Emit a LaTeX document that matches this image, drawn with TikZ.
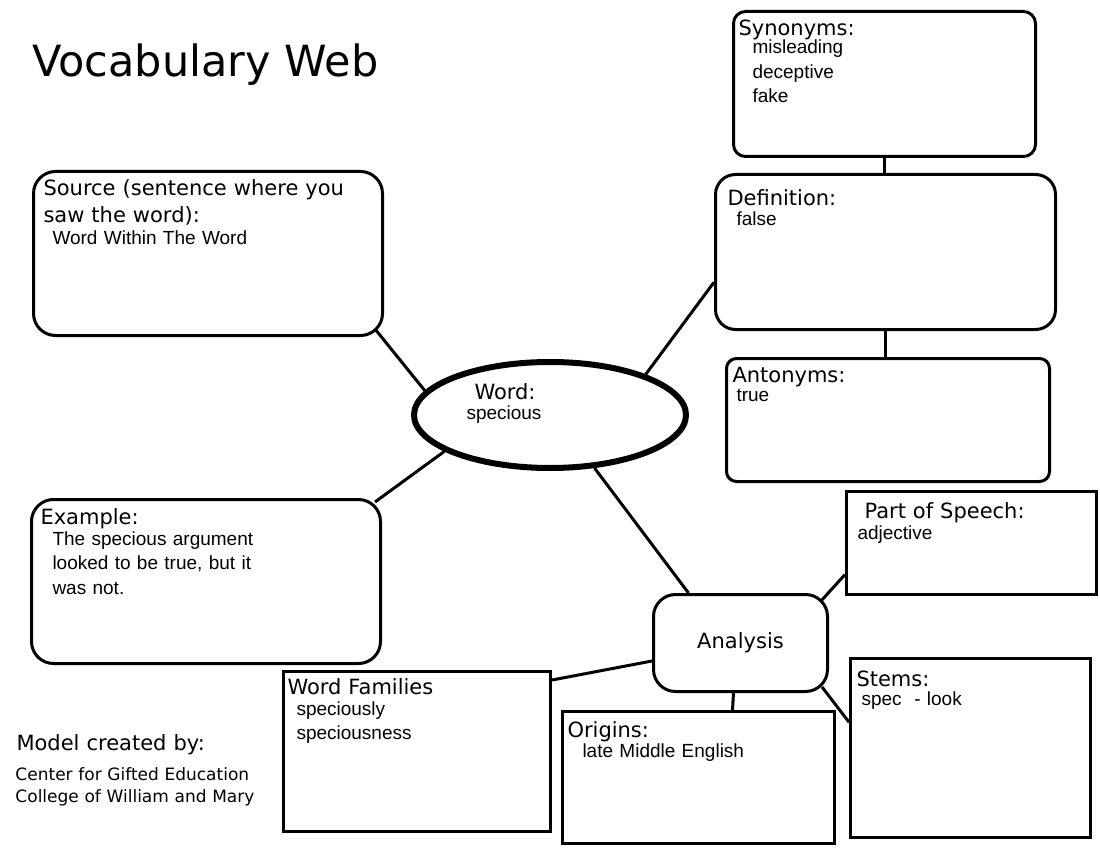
\documentclass[tikz,border=0pt]{standalone}
\usepackage{fontspec}
\setmainfont{Liberation Sans}
\newfontfamily\headfont{DejaVu Sans}
\usetikzlibrary{shapes.geometric}

\begin{document}
\begin{tikzpicture}[x=1pt,y=-1pt,line width=3pt,
  roundbox/.style={draw,fill=white,rounded corners=#1,inner sep=0pt,anchor=north west},
  plainbox/.style={draw,fill=white,inner sep=0pt,anchor=north west},
  head/.style={anchor=base west,inner sep=0pt,text width=400pt,align=left,
    font=\headfont\fontsize{21}{27}\selectfont},
  body/.style={anchor=base west,inner sep=0pt,text width=300pt,align=left,
    font=\fontsize{19}{24.5}\selectfont}]
\useasboundingbox (0,0) rectangle (1100,850);

% boxes
\node[roundbox=12pt,minimum width=302,minimum height=145] (syn) at (732,10) {};
\node[roundbox=20pt,minimum width=340,minimum height=155] (def) at (714,173) {};
\node[roundbox=10pt,minimum width=323,minimum height=123] (ant) at (725,357) {};
\node[roundbox=22pt,minimum width=349,minimum height=164] (src) at (32,170) {};
\node[roundbox=22pt,minimum width=349,minimum height=164] (exa) at (30,498) {};
\node[roundbox=22pt,minimum width=174,minimum height=97,
  font=\headfont\fontsize{21}{25}\selectfont] (ana) at (652,593) {Analysis};
\node[plainbox,minimum width=250,minimum height=103] (pos) at (845,490) {};
\node[plainbox,minimum width=240,minimum height=179] (sem) at (849,657) {};
\node[plainbox,minimum width=272,minimum height=132] (ori) at (561,710) {};
\node[plainbox,minimum width=267,minimum height=160] (wf) at (282,670) {};
\node[ellipse,draw,line width=6pt,minimum width=272,minimum height=106,
  inner sep=0pt] (word) at (550,415) {};

% connectors
\draw ([shift={(-9,-8)}]src.south east) -- (word.169);
\draw ([shift={(-7,4)}]exa.north east) -- (word.199);
\draw (def.190) -- (word.23);
\draw (word.-50) -- ([shift={(-52,0)}]ana.north);
\draw (syn.south) -- (syn.south |- def.north);
\draw (def.south) -- (def.south |- ant.north);
\draw ([shift={(-8,8)}]ana.north east) -- (pos.194);
\draw ([shift={(-7,-6)}]ana.south east) -- (sem.168);
\draw ([shift={(-7,0)}]ana.south) -- ([shift={(34,0)}]ori.north);
\draw ([shift={(0,18)}]ana.west) -- ([shift={(0,10)}]wf.north east);

% texts
\node[anchor=base west,inner sep=0pt,font=\headfont\fontsize{43}{50}\selectfont]
  (title) at (31,77) {Vocabulary Web};
\node[head] (synhd) at (737,36) {Synonyms:};
\node[body] (syntx) at (751,54) {misleading\\deceptive\\fake};
\node[head] (defhd) at (726,206) {Definition:};
\node[body] (deftx) at (735,226) {false};
\node[head] (anthd) at (731,382) {Antonyms:};
\node[body] (anttx) at (735,401) {true};
\node[head] (srchd) at (42,196) {Source (sentence where you\\saw the word):};
\node[body] (srctx) at (51,245) {Word Within The Word};
\node[head] (exahd) at (39,524) {Example:};
\node[body] (exatx) at (51,545) {The specious argument\\looked to be true, but it\\was not.};
\node[head] (wordhd) at (473,399) {Word:};
\node[body] (wordtx) at (465,419) {specious};
\node[head] (poshd) at (863,518) {Part of Speech:};
\node[body] (postx) at (856,539) {adjective};
\node[head] (semhd) at (855,686) {Stems:};
\node[body] (semtx) at (860,705) {spec~ - look};
\node[head] (orihd) at (566,737) {Origins:};
\node[body] (oritx) at (581,757) {late Middle English};
\node[head] (wfhd) at (286,694) {Word Families};
\node[body] (wftx) at (295,715) {speciously\\speciousness};
\node[head] (model) at (15,750) {Model created by:};
\node[head,font=\headfont\fontsize{17}{22}\selectfont] (credit) at (14,780)
  {Center for Gifted Education\\College of William and Mary};
\end{tikzpicture}
\end{document}
